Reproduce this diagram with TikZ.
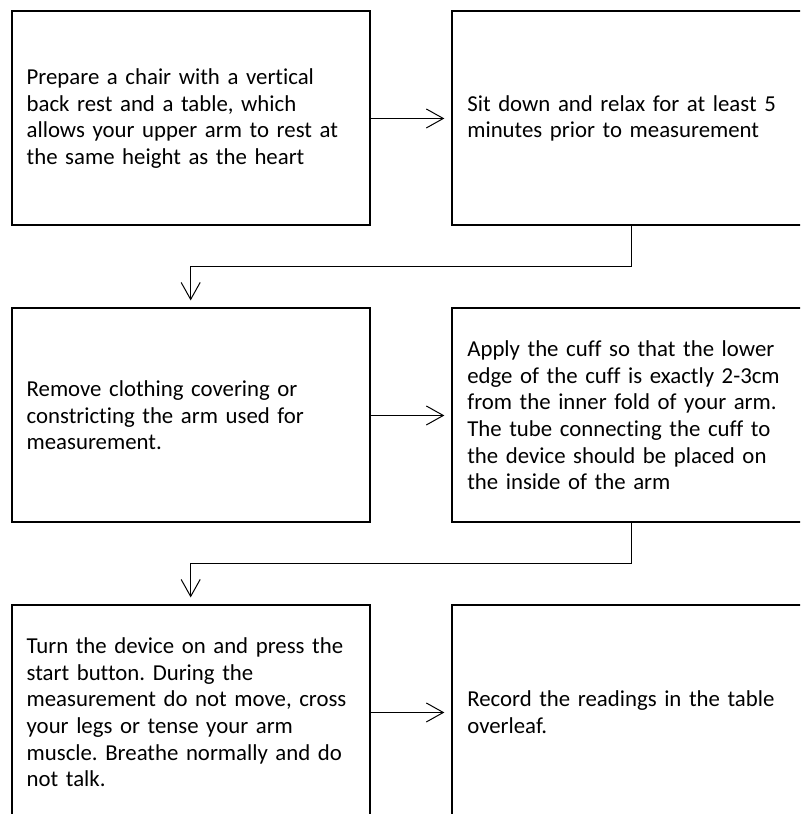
\documentclass[tikz,border=0pt]{standalone}
\usepackage{fontspec}
\setmainfont{Carlito}[Ligatures=NoCommon]
\usetikzlibrary{positioning,calc,arrows.meta}

\tikzset{
  stepbox/.style={draw, rectangle, line width=1.5pt, outer sep=0pt,
    minimum width=268.5pt, minimum height=160.5pt,
    text width=246pt, inner xsep=11.25pt, align=left,
    font=\fontsize{17.1pt}{20pt}\selectfont\frenchspacing},
  flow/.style={line width=0.75pt, -{Straight Barb[length=12.75pt,width=14.25pt]},
    shorten >=6pt}
}

\begin{document}
\begin{tikzpicture}
\useasboundingbox (0,0) rectangle (600pt,-610.5pt);
\clip (0,0) rectangle (600pt,-610.5pt);
% steps
\node[stepbox, anchor=north west] (prep) at (8.75pt,-8.6pt)
  {Prepare a chair with a vertical\\ back rest and a table, which\\ allows your upper arm to rest at\\ the same height as the heart};
\node[stepbox, right=62pt of prep] (relax)
  {Sit down and relax for at least 5\\ minutes prior to measurement};
\node[stepbox, below=62.25pt of prep] (clothing)
  {Remove clothing covering or\\ constricting the arm used for\\ measurement.};
\node[stepbox, right=62pt of clothing] (cuff)
  {Apply the cuff so that the lower\\ edge of the cuff is exactly 2-3cm\\ from the inner fold of your arm.\\ The tube connecting the cuff to\\ the device should be placed on\\ the inside of the arm};
\node[stepbox, below=62.25pt of clothing] (start)
  {Turn the device on and press the\\ start button. During the\\ measurement do not move, cross\\ your legs or tense your arm\\ muscle. Breathe normally and do\\ not talk.};
\node[stepbox, right=62pt of start] (record)
  {Record the readings in the table\\ overleaf.};
% arrows
\draw[flow] (prep) -- (relax);
\draw[flow] (clothing) -- (cuff);
\draw[flow] (start) -- (record);
\draw[flow] (relax.south) -- ($(relax.south)!.5!(cuff.north)$) -| (clothing.north);
\draw[flow] (cuff.south) -- ($(cuff.south)!.5!(record.north)$) -| (start.north);
\end{tikzpicture}
\end{document}
